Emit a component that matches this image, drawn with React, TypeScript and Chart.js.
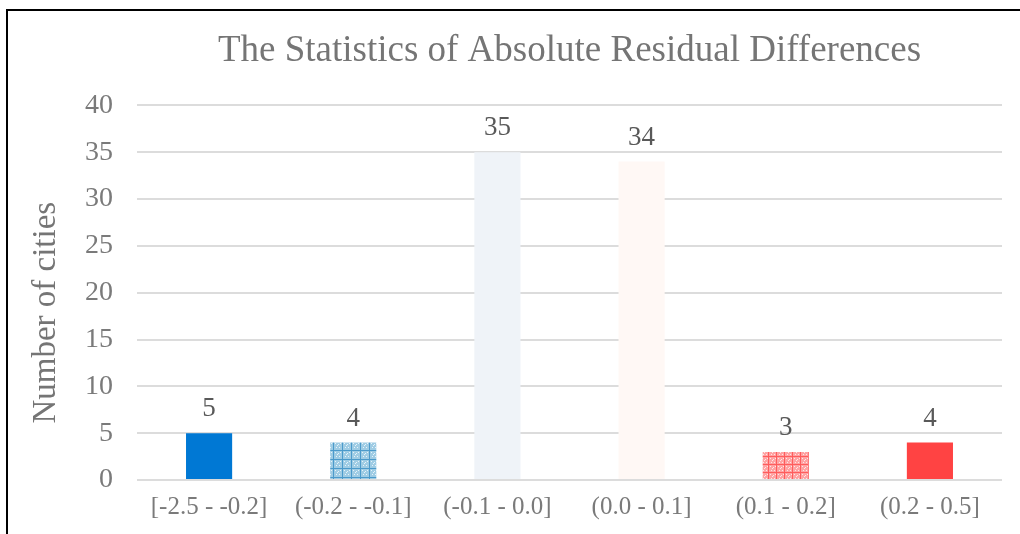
import React, { useEffect, useRef } from "react";
import { Chart, registerables } from "chart.js";

Chart.register(...registerables);

const chartTitle = "The Statistics of Absolute Residual Differences";
const yAxisTitle = "Number of cities";
const categories = [
  "[-2.5 - -0.2]",
  "(-0.2 - -0.1]",
  "(-0.1 - 0.0]",
  "(0.0 - 0.1]",
  "(0.1 - 0.2]",
  "(0.2 - 0.5]",
];
const counts = [5, 4, 35, 34, 3, 4];
const yMin = 0;
const yMax = 40;
const yStep = 5;

function makePattern(base: string, line: string, dot: string, size: number) {
  const c = document.createElement("canvas");
  c.width = size;
  c.height = size;
  const g = c.getContext("2d")!;
  g.fillStyle = base;
  g.fillRect(0, 0, size, size);
  g.fillStyle = dot;
  const dots = [
    [2, 2], [5, 3], [3, 6], [6, 6], [4, 4], [7, 2],
  ];
  dots.forEach(([x, y]) => {
    if (x < size && y < size) g.fillRect(x, y, 1, 1);
  });
  g.fillStyle = line;
  g.fillRect(0, 0, size, 1);
  g.fillRect(0, 0, 1, size);
  const ctx = document.createElement("canvas").getContext("2d")!;
  return ctx.createPattern(c, "repeat")!;
}

const FONT = "'Liberation Serif', 'Times New Roman', serif";

export default function App() {
  const ref = useRef<HTMLCanvasElement | null>(null);

  useEffect(() => {
    const canvas = ref.current!;
    const bluePattern = makePattern("#9fcce4", "#4b9acb", "#e6f3fa", 9);
    const redPattern = makePattern("#ffa3a3", "#ff5c5c", "#ffe6e6", 8);
    const colors: any[] = [
      "#0078d4",
      bluePattern,
      "#eff3f8",
      "#fff8f5",
      redPattern,
      "#ff4343",
    ];

    const valueLabels = {
      id: "valueLabels",
      afterDatasetsDraw(chart: any) {
        const ctx = chart.ctx;
        const meta = chart.getDatasetMeta(0);
        ctx.save();
        ctx.font = `27px ${FONT}`;
        ctx.fillStyle = "#595959";
        ctx.textAlign = "center";
        ctx.textBaseline = "middle";
        meta.data.forEach((bar: any, i: number) => {
          ctx.fillText(String(counts[i]), bar.x, bar.y - 24);
        });
        ctx.restore();
      },
    };

    const axisTitle = {
      id: "axisTitle",
      afterDraw(chart: any) {
        const ctx = chart.ctx;
        const area = chart.chartArea;
        ctx.save();
        ctx.translate(46, (area.top + area.bottom) / 2 + 20);
        ctx.rotate(-Math.PI / 2);
        ctx.font = `33px ${FONT}`;
        ctx.fillStyle = "#757575";
        ctx.textAlign = "center";
        ctx.textBaseline = "middle";
        ctx.fillText(yAxisTitle, 0, 0);
        ctx.restore();
      },
    };

    const chart = new Chart(canvas, {
      type: "bar",
      data: {
        labels: categories,
        datasets: [
          {
            data: counts,
            backgroundColor: colors,
            borderWidth: 0,
            barPercentage: 0.32,
            categoryPercentage: 1,
          },
        ],
      },
      options: {
        responsive: false,
        animation: false,
        layout: { padding: { left: 20, right: 18, top: 0, bottom: 0 } },
        plugins: {
          legend: { display: false },
          tooltip: { enabled: false },
          title: {
            display: true,
            text: chartTitle,
            fullSize: false,
            color: "#757575",
            font: { family: FONT, size: 37, weight: "normal" },
            padding: { top: 29, bottom: 32 },
          },
        },
        scales: {
          x: {
            grid: { display: false, drawTicks: false },
            border: { display: false },
            ticks: {
              color: "#7a7a7a",
              font: { family: FONT, size: 25 },
              padding: 12,
              maxRotation: 0,
              autoSkip: false,
            },
            afterFit: (s: any) => {
              s.height = 54;
            },
          },
          y: {
            min: yMin,
            max: yMax,
            ticks: {
              stepSize: yStep,
              color: "#7a7a7a",
              font: { family: FONT, size: 28 },
              padding: 24,
            },
            grid: { color: "#dcdcdc", lineWidth: 2, drawTicks: false },
            border: { display: false },
            afterFit: (s: any) => {
              s.width = 117;
            },
          },
        },
      },
      plugins: [valueLabels, axisTitle],
    });
    return () => chart.destroy();
  }, []);

  return (
    <div>
      <canvas
        ref={ref}
        width={1020}
        height={534}
        style={{ position: "fixed", left: 0, top: 0, width: 1020, height: 534, background: "#fff" }}
      />
      <div
        style={{
          position: "fixed",
          left: 6,
          top: 9,
          width: 1100,
          height: 600,
          borderLeft: "2px solid #000",
          borderTop: "2px solid #000",
          pointerEvents: "none",
        }}
      />
    </div>
  );
}
